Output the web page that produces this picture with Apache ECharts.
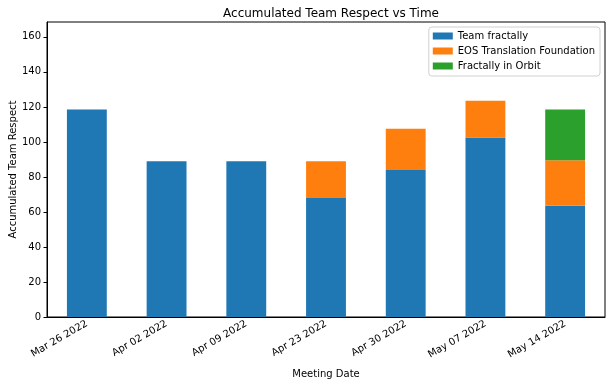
<!DOCTYPE html>
<html><head><meta charset="utf-8">
<script src="https://cdn.jsdelivr.net/npm/echarts@6/dist/echarts.min.js"></script>
<style>html,body{margin:0;padding:0;background:#fff}#c{width:612px;height:386px}</style>
</head><body><div id="c"></div>
<script>
const categories = ['Mar 26 2022','Apr 02 2022','Apr 09 2022','Apr 23 2022','Apr 30 2022','May 07 2022','May 14 2022'];
const teamFractally = [118.5, 89, 89, 68, 84, 102.5, 63.5];
const eosTranslation = [0, 0, 0, 21, 23.5, 21, 26];
const fractallyOrbit = [0, 0, 0, 0, 0, 0, 29];
const yTicks = [0, 20, 40, 60, 80, 100, 120, 140, 160];
const seriesNames = ['Team fractally', 'EOS Translation Foundation', 'Fractally in Orbit'];
const colors = ['#1f77b4', '#ff7f0e', '#2ca02c'];

const font = 'DejaVu Sans';
const chart = echarts.init(document.getElementById('c'), null, {renderer: 'canvas'});
const mk = (name, data, color) => ({
  name, type: 'bar', stack: 'total', data, barWidth: '50%',
  itemStyle: {color}, emphasis: {disabled: true}
});
chart.setOption({
  animation: false,
  textStyle: {fontFamily: font},
  title: {
    text: 'Accumulated Team Respect vs Time', left: 326, top: 3, textAlign: 'center',
    textStyle: {fontFamily: font, fontSize: 12, fontWeight: 'normal', color: '#000'}
  },
  legend: {
    orient: 'vertical', right: 12, top: 27,
    itemWidth: 20, itemHeight: 7, itemGap: 5, itemTextGap: 8,
    padding: [4, 5, 5, 4],
    borderColor: '#d0d0d0', borderWidth: 1, borderRadius: 3,
    backgroundColor: '#fff',
    icon: 'rect',
    textStyle: {fontFamily: font, fontSize: 10, color: '#000'},
    data: seriesNames
  },
  grid: {left: 47, right: 7, top: 22, bottom: 69, outerBoundsMode: 'none', containLabel: false,
         show: true, borderColor: '#000', borderWidth: 1, backgroundColor: 'transparent'},
  xAxis: {
    type: 'category', data: categories, boundaryGap: true,
    name: 'Meeting Date', nameLocation: 'middle', nameGap: 52, nameMoveOverlap: false,
    nameTextStyle: {fontFamily: font, fontSize: 10, color: '#000'},
    axisLine: {lineStyle: {color: '#000'}},
    axisTick: {alignWithLabel: true, length: 3.5, lineStyle: {color: '#000'}},
    axisLabel: {rotate: 30, fontFamily: font, fontSize: 10, color: '#000', margin: 6, interval: 0}
  },
  yAxis: {
    type: 'value', min: 0, max: 168.5,
    name: 'Accumulated Team Respect', nameLocation: 'middle', nameGap: 29, nameMoveOverlap: false,
    nameTextStyle: {fontFamily: font, fontSize: 10, color: '#000'},
    axisLine: {show: true, lineStyle: {color: '#000'}},
    axisTick: {show: true, length: 3.5, lineStyle: {color: '#000'}, customValues: yTicks},
    axisLabel: {fontFamily: font, fontSize: 10, color: '#000', margin: 6, customValues: yTicks},
    splitLine: {show: false}
  },
  series: [
    mk(seriesNames[0], teamFractally, colors[0]),
    mk(seriesNames[1], eosTranslation, colors[1]),
    mk(seriesNames[2], fractallyOrbit, colors[2])
  ]
});
</script></body></html>
